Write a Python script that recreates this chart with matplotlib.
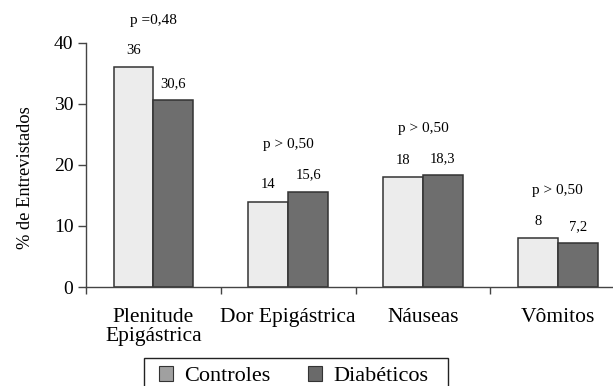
import matplotlib.pyplot as plt
from matplotlib.patches import Patch, Rectangle
import numpy as np

plt.rcParams['font.family'] = ['Liberation Serif', 'DejaVu Serif']

# dados
categorias = ['Plenitude\nEpigástrica', 'Dor Epigástrica', 'Náuseas', 'Vômitos']
controles = [36, 14, 18, 8]
diabeticos = [30.6, 15.6, 18.3, 7.2]
rot_controles = ['36', '14', '18', '8']
rot_diabeticos = ['30,6', '15,6', '18,3', '7,2']
p_valores = ['p =0,48', 'p > 0,50', 'p > 0,50', 'p > 0,50']
series = ['Controles', 'Diabéticos']

cor_clara = '#ececec'
cor_escura = '#6e6e6e'
larg = 0.295

fig = plt.figure(figsize=(6.13, 3.86), dpi=100)
ax = fig.add_axes([86 / 613, 99 / 386, 1 - 86 / 613, 244 / 386])

x = np.arange(len(categorias))
b1 = ax.bar(x - larg / 2, controles, larg, color=cor_clara, edgecolor='#333333', linewidth=1.1)
b2 = ax.bar(x + larg / 2, diabeticos, larg, color=cor_escura, edgecolor='#333333', linewidth=1.1)

for r, t in zip(b1, rot_controles):
    ax.annotate(t, (r.get_x() + r.get_width() / 2, r.get_height()), xytext=(0, 12),
                textcoords='offset points', ha='center', va='center', fontsize=10.5)
for r, t in zip(b2, rot_diabeticos):
    ax.annotate(t, (r.get_x() + r.get_width() / 2, r.get_height()), xytext=(0, 12),
                textcoords='offset points', ha='center', va='center', fontsize=10.5)

# p-valores acima de cada grupo
for i, p in enumerate(p_valores):
    topo = max(controles[i], diabeticos[i])
    ax.annotate(p, (x[i], topo), xytext=(0, 34), textcoords='offset points',
                ha='center', va='center', fontsize=11)

ax.set_xlim(-0.5, 3.41)
ax.set_ylim(0, 40)
ax.set_yticks([0, 10, 20, 30, 40])
ax.tick_params(axis='y', labelsize=14, length=6, width=1, pad=3, color='#444444')

ax.set_xticks(x)
ax.set_xticklabels(categorias, fontsize=15.5, linespacing=1.0)
ax.tick_params(axis='x', length=0, pad=15)
ax.set_xticks(np.arange(-0.5, 3, 1.0), minor=True)
ax.tick_params(axis='x', which='minor', length=5, width=1, color='#444444')

for s in ['top', 'right']:
    ax.spines[s].set_visible(False)
for s in ['left', 'bottom']:
    ax.spines[s].set_color('#444444')
    ax.spines[s].set_linewidth(1.0)

ax.set_ylabel('% de Entrevistados', fontsize=13.3)
ax.yaxis.set_label_coords(-0.098, 0.45)

# legenda sem moldura + caixa desenhada a parte
handles = [Patch(facecolor='#a0a0a0', edgecolor='#333333', linewidth=0.8),
           Patch(facecolor='#6a6a6a', edgecolor='#333333', linewidth=0.8)]
fig.legend(handles, series, loc='upper left', bbox_to_anchor=(159 / 613, 1 - 366 / 386),
           ncol=2, fontsize=16, frameon=False, borderpad=0, borderaxespad=0,
           handlelength=0.63, handleheight=0.63, handletextpad=0.5, columnspacing=1.7)
fig.patches.append(Rectangle((144 / 613, -0.05), 304 / 613, 0.05 + 1 - 358 / 386,
                             transform=fig.transFigure, fill=False,
                             edgecolor='#222222', linewidth=1.0))

fig.savefig('out.png', dpi=100)
